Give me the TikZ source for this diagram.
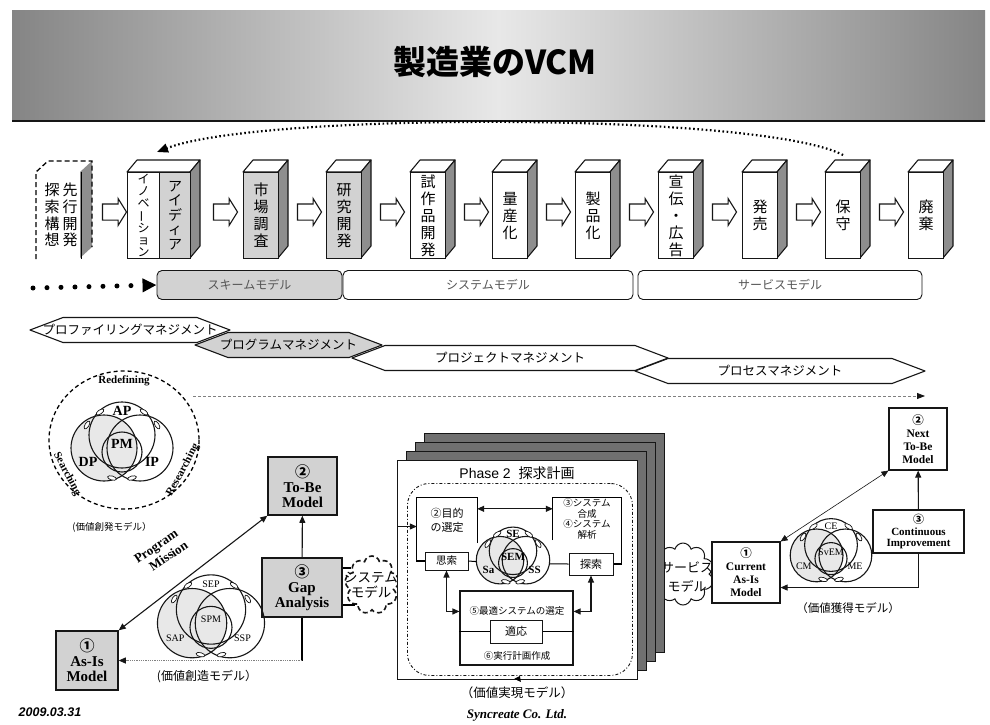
\documentclass[tikz,border=0pt]{standalone}
\usepackage{fontspec}
\setmainfont{Liberation Serif}
\setsansfont{Liberation Sans}
\newfontfamily\jp{Noto Sans CJK JP}
\usetikzlibrary{arrows.meta,positioning,calc,shapes.geometric,shapes.symbols,shapes.arrows}
\definecolor{vink}{HTML}{161616}
\definecolor{vshade}{HTML}{D2D2D2}
\definecolor{vpale}{HTML}{E8E8E8}
\definecolor{vside}{HTML}{8E8E8E}
\definecolor{vsheet}{HTML}{707070}
\definecolor{vtext}{HTML}{555555}
\definecolor{vband}{HTML}{858585}
\newcommand{\fsz}[1]{\fontsize{#1}{#1}\selectfont}
\tikzset{
  stage/.style={draw=vink,fill=white,line width=1.1pt,minimum width=35pt,minimum height=86pt,inner sep=0pt,anchor=north west,align=center,font=\jp\fontsize{15}{17}\selectfont},
  side/.style={draw=vink,fill=vside,line width=1.1pt,line join=round},
  roof/.style={draw=vink,fill=white,line width=1.1pt,line join=round},
  blk/.style={single arrow,draw=vink,fill=white,line width=1.1pt,minimum height=24pt,minimum width=26pt,inner xsep=0pt,inner ysep=7.5pt,single arrow head extend=5.5pt,single arrow tip angle=116},
  mbar/.style={draw=vink,rounded corners=5pt,line width=0.9pt,minimum height=29pt,inner sep=0pt,font=\jp\fsz{12},text=vtext},
  mgmt/.style={draw=vink,line width=1.1pt,line join=round},
  gbox/.style={draw=vink,fill=vshade,line width=1.5pt,align=center,inner sep=0pt,font=\bfseries\fontsize{15}{15}\selectfont},
  wbox/.style={draw=vink,fill=white,line width=1.1pt,align=center,inner sep=0pt,font=\bfseries\fontsize{11.5}{13}\selectfont},
  sbox/.style={draw=vink,fill=white,line width=1pt,align=center,inner sep=0pt,font=\jp\fsz{10.5}},
  arr/.style={-{Triangle[length=7pt,width=6pt]},line width=1.1pt,draw=vink},
  darr/.style={{Triangle[length=7pt,width=6pt]}-{Triangle[length=7pt,width=6pt]},line width=1.1pt,draw=vink},
  lbl/.style={font=\jp\fsz{12.5}},
  vring/.style={draw=vink,line width=1.1pt},
  leaf/.style={ellipse,draw=vink,fill=white,line width=0.7pt,minimum width=9pt,minimum height=4pt,inner sep=0pt},
}

\begin{document}
\begin{tikzpicture}[x=1pt,y=-1pt]
  \useasboundingbox (0,0) rectangle (990,724);
  \fill[white] (0,0) rectangle (990,724);
  % --- banner
  \shade[left color=vband,right color=vband,middle color=vpale] (12,10) rectangle (985,121);
  \draw[line width=2pt,vink] (12,121) -- (985,121);
  \node[font=\jp\bfseries\fsz{33}] (title) at (495,62) {製造業のVCM};

  % --- value chain
  \fill[vside] (80,172) -- ++(12,-11) -- ++(0,86) -- ++(-12,11) -- cycle;
  \node[stage,draw=none,fill=none,minimum width=44pt] (senko) at (36,172) {};
  \draw[line width=1.3pt,dash pattern=on 5pt off 3pt] (senko.south west) -- (senko.north west) -- ++(12,-11) -- ++(44,0) -- ++(0,86);
  \draw[line width=1.2pt] (senko.north east) -- (senko.south east);
  \node[font=\jp\fontsize{15}{16.7}\selectfont,align=center] (senko1) at (70,215) {先\\行\\開\\発};
  \node[font=\jp\fontsize{15}{16.7}\selectfont,align=center] (senko2) at (52,215) {探\\索\\構\\想};

  \draw[roof] (127,172) -- ++(10,-12) -- ++(63,0) -- ++(-10,12) -- cycle;
  \draw[side] (190,172) -- ++(10,-12) -- ++(0,86) -- ++(-10,12) -- cycle;
  \node[stage,minimum width=32pt,font=\jp\fontsize{12}{11.8}\selectfont] (inov) at (127,172) {イ\\ノ\\ベ\\\rotatebox[origin=c]{90}{ー}\\シ\\ョ\\ン};
  \node[stage,minimum width=31pt,fill=vshade,font=\jp\fontsize{14}{14.5}\selectfont] (idea) at (159,172) {ア\\イ\\デ\\ィ\\ア};

  \foreach \nm/\xo/\fl/\tx in {mkt/243/vshade/{市\\場\\調\\査}, rd/326/vshade/{研\\究\\開\\発}, proto/410/white/{試\\作\\品\\開\\発}, mass/492/white/{量\\産\\化}, prod/575/white/{製\\品\\化}, ad/658/white/{宣\\伝\\・\\広\\告}, sale/742/white/{発\\売}, hoshu/825/white/{保\\守}, waste/908/white/{廃\\棄}} {
    \draw[roof] (\xo,172) -- ++(10,-12) -- ++(35,0) -- ++(-10,12) -- cycle;
    \draw[side] ({\xo+35},172) -- ++(10,-12) -- ++(0,86) -- ++(-10,12) -- cycle;
    \node[stage,fill=\fl] (\nm) at (\xo,172) {\tx};
  }
  \foreach \nm/\cx in {ar0/112, ar1/223, ar2/307, ar3/390, ar4/474, ar5/556, ar6/639, ar7/722, ar8/806, ar9/889}
    \node[blk] (\nm) at (\cx,212) {};

  \draw[line width=2.2pt,dash pattern=on 1.6pt off 2.6pt,-{Triangle[length=11pt,width=9pt]}] ($(hoshu.north)+(0,-17)$) .. controls (760,112) and (260,112) .. ($(idea.north west)+(-2,-20)$);

  % --- models
  \node[mbar,fill=vshade,minimum width=185pt] (scheme) at (249.5,285) {スキームモデル};
  \node[mbar,fill=white,minimum width=290pt] (system) at (488,285) {システムモデル};
  \node[mbar,fill=white,minimum width=284pt] (service) at (780,285) {サービスモデル};
  \coordinate (dotstart) at (33,288);
  \draw[line width=5pt,line cap=round,dash pattern=on 0pt off 14pt,-{Triangle[length=14pt,width=13pt]}] (dotstart) -- (scheme.west);

  % --- management
  \foreach \nm/\xa/\xb/\yc/\fl/\tx in {proc/635/925/371/white/プロセスマネジメント, proj/352/668/358/white/プロジェクトマネジメント, prog/195/382/345/vshade/プログラムマネジメント, prof/30/230/330/white/プロファイリングマネジメント} {
    \draw[mgmt,fill=\fl] (\xa,\yc) -- ({\xa+33},{\yc-12.5}) -- ({\xb-33},{\yc-12.5}) -- (\xb,\yc) -- ({\xb-33},{\yc+12.5}) -- ({\xa+33},{\yc+12.5}) -- cycle;
    \node[lbl] (\nm) at ({(\xa+\xb)/2},\yc) {\tx};
  }
  \coordinate (dl) at (193,396);
  \coordinate (dr) at (925,396);
  \draw[densely dashed,draw=gray,line width=0.8pt,-{Triangle[length=8pt,width=6pt,color=vink]}] (dl) -- (dr);

  % --- left loop
  \draw[line width=1.3pt,dash pattern=on 4pt off 3pt] (124,440) ellipse [x radius=75,y radius=69];
  \node[font=\bfseries\fsz{11}] (redef) at (124,381) {Redefining};
  \node[font=\bfseries\fsz{11},rotate=-62] (search) at (67,474) {Searching};
  \node[font=\bfseries\fsz{11},rotate=62] (resrch) at (183,470) {Researching};
  \node[font=\jp\fsz{9.5}] (lab1) at (112,527) {(価値創発モデル）};
  \node[font=\jp\fsz{12}] (lab2) at (207,677) {(価値創造モデル）};
  \node[font=\bfseries\fontsize{13}{15}\selectfont,rotate=34,align=left] (pgm) at (161,552) {Program\\\hspace*{8pt}Mission};

  \node[gbox,minimum width=69pt,minimum height=58pt] (tobe) at (302.5,486) {{\jp ②}\\To-Be\\Model};
  \node[gbox,minimum width=80pt,minimum height=59pt] (gap) at (302,587.5) {{\jp ③}\\Gap\\Analysis};
  \node[gbox,minimum width=62pt,minimum height=59pt] (asis) at (87,660.5) {{\jp ①}\\As-Is\\Model};
  \draw[arr] (gap) -- (tobe);
  \draw[darr] (asis.north east) -- (tobe.south west);
  \coordinate (fb) at (gap.south |- asis.east);
  \draw[line width=1.1pt] (gap.south) -- (fb);
  \draw[densely dotted,draw=gray,line width=0.8pt,-{Triangle[length=7pt,width=6pt,color=vink]}] (fb) -- (asis.east);

  \node[cloud,draw=vink,dash pattern=on 5pt off 3pt,line width=1.6pt,cloud puffs=9,minimum width=54pt,minimum height=58pt,inner sep=0pt] (sysm) at (372,585) {};
  \node[font=\jp\fontsize{13.5}{15}\selectfont,align=center] (sysmt) at (371,585) {システム\\モデル};
  \draw[line width=1.6pt] (gap.east |- sysm.140) -- (sysm.140);
  \draw[line width=1.6pt] (gap.east |- sysm.230) -- (sysm.230);

  % --- right loop (cloud first, under the stack)
  \node[cloud,draw=vink,line width=1pt,cloud puffs=10,minimum width=62pt,minimum height=62pt,inner sep=0pt] (servm) at (683,574) {};
  \node[font=\jp\fontsize{13}{19}\selectfont,align=center] (servt) at (687,577) {サービス\\モデル};
  \node[wbox,minimum width=68pt,minimum height=61pt] (current) at (746,572.5) {{\jp ①}\\Current\\As-Is\\Model};
  \node[wbox,minimum width=58pt,minimum height=62pt] (next) at (918,439) {{\jp ②}\\Next\\To-Be\\Model};
  \node[wbox,minimum width=91pt,minimum height=43pt,font=\bfseries\fontsize{11}{11.5}\selectfont] (conti) at (918.5,531.5) {{\jp ③}\\Continuous\\Improvement};
  \draw[arr] (conti) -- (next);
  \draw[arr] (conti.south) |- ($(current.south east)+(0,-16)$);
  \draw[darr,line width=0.6pt] (current.north east) -- (next.south west);
  \node[font=\jp\fsz{11.5}] (lab4) at (848,608) {（価値獲得モデル）};

  % --- phase 2 stack
  \foreach \k in {3,2,1}
    \draw[draw=vink,fill=vsheet,line width=0.8pt] ({397+9*\k},{460-9*\k}) rectangle ({637+9*\k},{679-9*\k});
  \node[draw=vink,fill=white,line width=1.3pt,minimum width=240pt,minimum height=219pt,anchor=north west] (phase) at (397,460) {};
  \node[draw=vink,dash pattern=on 3pt off 2pt on 1pt off 2pt,line width=0.9pt,rounded corners=22pt,minimum width=225pt,minimum height=192pt,anchor=north west] (inner) at (407,483) {};
  \node[font=\sffamily\fsz{14}] (ptitle) at (517,473) {Phase 2\ \ {\jp 探求計画}};

  % --- venns
  \foreach \vn/\cx/\cy/\sc/\lt/\lm/\ll/\lr/\vf in {pm/122/445/1/AP/PM/DP/IP/\bfseries\fsz{14}, spm/211/620/1.05/SEP/SPM/SAP/SSP/\fsz{10}, sem/513/558/.72/SE/SEM/Sa/SS/\bfseries\fsz{11}, svem/831/553/.8/CE/SvEM/CM/ME/\fsz{10}} {
    \begin{scope}[shift={(\cx,\cy)},scale=\sc]
      \fill[vpale] (-18,3) circle [radius=33];
      \foreach \p in {(0,-10),(-18,3),(18,3)}
        \draw[vring] \p circle [radius=33];
      \draw[vring] (0,7) circle [radius=20];
      \foreach \lx/\ly/\la in {-22/-33/35, -35/-20/58, 22/-33/-35, 35/-20/-58, -10/33/-15, 10/33/15}
        \node[leaf,rotate=\la] at (\lx,\ly) {};
      \node[font=\vf] (\vn-t) at (0,-34) {\lt};
      \node[font=\vf] (\vn-m) at (0,-1) {\lm};
      \node[font=\vf] (\vn-l) at (-34,17) {\ll};
      \node[font=\vf] (\vn-r) at (30,17) {\lr};
      \coordinate (\vn-w) at (-51,5);
      \coordinate (\vn-e) at (51,8);
    \end{scope}
  }

  \node[sbox,minimum width=43pt,minimum height=18pt] (shisaku) at (446.5,561) {思索};
  \node[sbox,minimum width=44pt,minimum height=22pt,font=\jp\fsz{11}] (tansaku) at (591,564) {探索};
  \node[minimum width=60pt,minimum height=45pt,inner sep=0pt,align=center,font=\jp\fontsize{11}{14}\selectfont] (mokuteki) at (447,520.5) {②目的\\の選定};
  \node[minimum width=68pt,minimum height=42pt,inner sep=0pt,align=center,font=\jp\fontsize{9.5}{10.5}\selectfont] (kousei) at (587,519) {③システム\\合成\\④システム\\解析};
  \draw[line width=1.1pt] (mokuteki.south east) -- (mokuteki.north east) -- (mokuteki.north west) -- (mokuteki.west |- shisaku.west) -- (shisaku.west);
  \draw[line width=1.1pt] (kousei.south west) -- (kousei.north west) -- (kousei.north east) -- (kousei.east |- tansaku.east) -- (tansaku.east);
  \draw[darr] ($(mokuteki.north east)+(0,11)$) -- ($(kousei.north west)+(0,11)$);
  \coordinate (mkin) at ($(mokuteki.west)+(0,6)$);
  \draw[arr] (phase.west |- mkin) -- (mkin);
  \draw[line width=1pt] (shisaku.east) -- (sem-w);
  \draw[line width=1pt] (sem-e) -- (tansaku.west);

  \node[draw=vink,fill=white,line width=1.1pt,minimum width=113pt,minimum height=74pt] (saiteki) at (516.5,628) {};
  \node[sbox,minimum width=52pt,minimum height=23pt,font=\jp\fsz{11}] (tekiou) at (516,631.5) {適応};
  \draw[line width=1pt] (saiteki.west |- tekiou) -- (tekiou.west);
  \draw[line width=1pt] (tekiou.east) -- (saiteki.east |- tekiou);
  \node[font=\jp\fsz{9.5}] (s5) at (517,611) {⑤最適システムの選定};
  \node[font=\jp\fsz{9.5}] (s6) at (517,656) {⑥実行計画作成};
  \draw[darr] (shisaku.south) |- ($(saiteki.north west)+(0,21)$);
  \draw[darr] (tansaku.south) |- ($(saiteki.north east)+(0,21)$);
  \draw[-{Triangle[length=5pt,width=7pt]},line width=1pt] (phase.south) -- (inner.south);
  \node[font=\jp\fsz{12.5}] (lab3) at (517,693) {（価値実現モデル）};

  % --- footer
  \node[font=\sffamily\bfseries\itshape\fsz{12.5}] (date) at (50,712) {2009.03.31};
  \node[font=\bfseries\itshape\fsz{13}] (corp) at (517,715) {Syncreate Co. Ltd.};
\end{tikzpicture}
\end{document}
